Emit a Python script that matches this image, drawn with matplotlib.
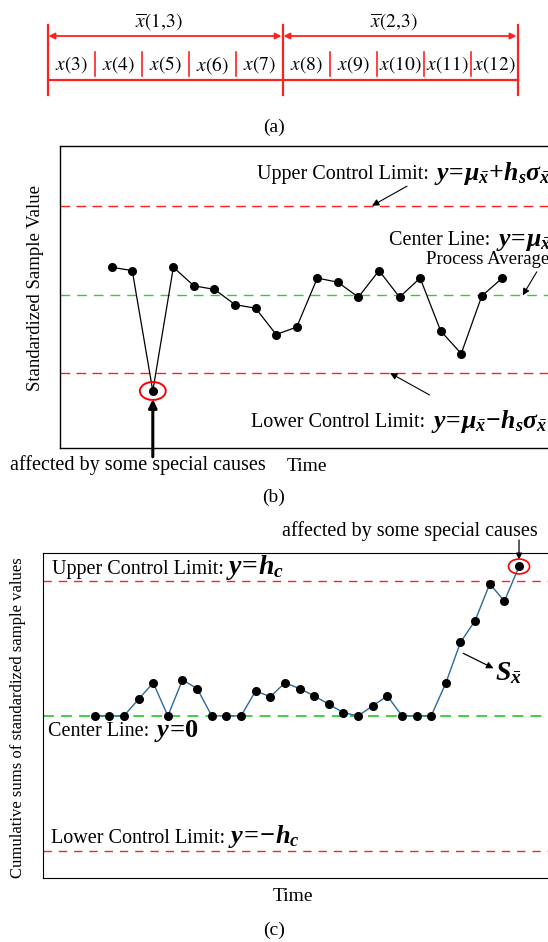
import numpy as np
import matplotlib
matplotlib.use("Agg")
from matplotlib import pyplot as plt
from matplotlib.patches import Ellipse

plt.rcParams["font.family"] = ["Liberation Serif", "DejaVu Serif"]
plt.rcParams["mathtext.fontset"] = "custom"
plt.rcParams["mathtext.rm"] = "Liberation Serif:bold"
plt.rcParams["mathtext.it"] = "Liberation Serif:italic:bold"
plt.rcParams["mathtext.bf"] = "Liberation Serif:bold"

# (a) sample layout
cell_labels = ["x(3)", "x(4)", "x(5)", "x(6)", "x(7)",
               "x(8)", "x(9)", "x(10)", "x(11)", "x(12)"]
group_labels = [r"\overline{x}(1{,}3)", r"\overline{x}(2{,}3)"]
cells_per_group = 5

# (b) standardized sample values
b_t = np.arange(1, 21)
b_vals = [0.94, 0.83, -3.2, 0.94, 0.32, 0.20, -0.31, -0.43, -1.31, -1.06,
          0.58, 0.44, -0.06, 0.83, -0.06, 0.58, -1.19, -1.95, -0.02, 0.58]
b_ucl, b_cl, b_lcl = 3.0, 0.0, -2.6
b_out = 3  # out-of-control sample

# (c) cumulative sums
c_t = np.arange(1, 31)
c_vals = [0, 0, 0, 0.62, 1.22, 0, 1.33, 1.01, 0, 0,
          0, 0.92, 0.71, 1.22, 1.01, 0.74, 0.43, 0.12, 0, 0.37,
          0.74, 0, 0, 0, 1.22, 2.72, 3.52, 4.88, 4.24, 5.52]
c_ucl, c_cl, c_lcl = 5.0, 0.0, -5.0
c_out = 30

RED = "#ff2020"
GREEN = "#33cc33"
BLUE = "#2b6a9a"

fig = plt.figure(figsize=(5.48, 9.42), dpi=100)

# overlay in pixel units for the sketch in (a) and the captions
ov = fig.add_axes([0, 0, 1, 1])
ov.set_xlim(0, 548)
ov.set_ylim(942, 0)
ov.axis("off")

x0, cw = 47.5, 47.0
n = len(cell_labels)
edges = x0 + cw * np.arange(n + 1)
for g in range(len(group_labels) + 1):
    xe = edges[g * cells_per_group]
    ov.plot([xe, xe], [25, 95], color=RED, lw=1.6)
for g, lab in enumerate(group_labels):
    xa, xb = edges[g * cells_per_group], edges[(g + 1) * cells_per_group]
    ov.annotate("", xy=(xa + 1, 36), xytext=(xb - 1, 36),
                arrowprops=dict(arrowstyle="<|-|>", color=RED, lw=1.3,
                                mutation_scale=9, shrinkA=0, shrinkB=0))
    ov.text((xa + xb) / 2 - 6, 22, "$" + lab + "$", ha="center", va="center",
            fontsize=14, math_fontfamily="stix")
ov.plot([edges[0], edges[-1]], [80, 80], color=RED, lw=1.6)
for i in range(1, n):
    if i % cells_per_group:
        ov.plot([edges[i], edges[i]], [52, 76], color=RED, lw=1.2)
for i, lab in enumerate(cell_labels):
    ov.text((edges[i] + edges[i + 1]) / 2, 65, "$" + lab + "$", ha="center",
            va="center", fontsize=14, math_fontfamily="stix")

for cap, yc in [("(a)", 127), ("(b)", 497), ("(c)", 930)]:
    ov.text(274, yc, cap, ha="center", va="center", fontsize=14)

arrow_thin = dict(arrowstyle="-|>", color="black", lw=0.8,
                  mutation_scale=10, shrinkA=0, shrinkB=0)

# (b) Shewhart-type chart
ax = fig.add_axes([0.110, 0.5247, 0.890, 0.3203])
ax.set_xlim(-1.5, 22.22)
ax.set_ylim(-5.1, 5.0)
ax.set_xticks([])
ax.set_yticks([])
ax.spines["right"].set_visible(False)
for s in ["left", "top", "bottom"]:
    ax.spines[s].set_linewidth(1.0)
ax.axhline(b_ucl, color=RED, lw=1.0, ls=(0, (7, 4.5)))
ax.axhline(b_cl, color=GREEN, lw=1.0, ls=(0, (7, 5)))
ax.axhline(b_lcl, color=RED, lw=1.0, ls=(0, (7, 4.5)))
ax.plot(b_t, b_vals, color="black", lw=0.9, marker="o", ms=5.5,
        mfc="black", mec="black")
yo = b_vals[b_out - 1]
ax.add_patch(Ellipse((b_out, yo), width=1.26, height=0.6, fill=False,
                     ec="red", lw=1.4, zorder=4))

t = ax.text(0.403, 0.904, "Upper Control Limit: ", transform=ax.transAxes,
            ha="left", va="center", fontsize=14.5)
ax.annotate(r"$y\!=\!\mu_{\bar{x}}\!+\!h_s\sigma_{\bar{x}}$", xy=(1, 0),
            xycoords=t, xytext=(0, 3.2), textcoords="offset points",
            ha="left", va="baseline", fontsize=18.5)
ax.annotate("", xy=(13.66, b_ucl), xytext=(0.711, 0.867),
            textcoords="axes fraction", arrowprops=arrow_thin)

t = ax.text(0.675, 0.686, "Center Line: ", transform=ax.transAxes,
            ha="left", va="center", fontsize=14.5)
ax.annotate(r"$y\!=\!\mu_{\bar{x}}$", xy=(1, 0), xycoords=t,
            xytext=(0, 3.2), textcoords="offset points",
            ha="left", va="baseline", fontsize=18.5)
ax.text(0.750, 0.624, "Process Average", transform=ax.transAxes,
        ha="left", va="center", fontsize=13.5)
ax.annotate("", xy=(20.99, b_cl), xytext=(0.977, 0.583),
            textcoords="axes fraction", arrowprops=arrow_thin)

t = ax.text(0.392, 0.083, "Lower Control Limit: ", transform=ax.transAxes,
            ha="left", va="center", fontsize=14.5)
ax.annotate(r"$y\!=\!\mu_{\bar{x}}\!-\!h_s\sigma_{\bar{x}}$", xy=(1, 0),
            xycoords=t, xytext=(0, 3.2), textcoords="offset points",
            ha="left", va="baseline", fontsize=18.5)
ax.annotate("", xy=(14.54, b_lcl), xytext=(0.757, 0.175),
            textcoords="axes fraction", arrowprops=arrow_thin)

ax.annotate("", xy=(b_out, yo), xytext=(b_out, -0.03),
            textcoords=("data", "axes fraction"), annotation_clip=False,
            arrowprops=dict(arrowstyle="-|>", color="black", lw=2.2,
                            mutation_scale=12, shrinkA=0, shrinkB=6))
ax.text(-0.103, -0.057, "affected by some special causes",
        transform=ax.transAxes, ha="left", va="center", fontsize=14.5)
ax.text(0.506, -0.063, "Time", transform=ax.transAxes, ha="center",
        va="center", fontsize=14)
ax.text(-0.05, 0.53, "Standardized Sample Value", transform=ax.transAxes,
        rotation=90, ha="center", va="center", fontsize=13.5)

# (c) CUSUM chart
cx = fig.add_axes([0.079, 0.0676, 0.921, 0.3457])
cx.set_xlim(-2.513, 31.98)
cx.set_ylim(-6.0, 6.03)
cx.set_xticks([])
cx.set_yticks([])
cx.spines["right"].set_visible(False)
cx.axhline(c_ucl, color=RED, lw=1.0, ls=(0, (6, 5)))
cx.axhline(c_cl, color=GREEN, lw=1.3, ls=(0, (6, 4)))
cx.axhline(c_lcl, color=RED, lw=1.0, ls=(0, (6, 5)))
cx.plot(c_t, c_vals, color=BLUE, lw=1.0, marker="o", ms=5.5,
        mfc="black", mec="black")
yc = c_vals[c_out - 1]
cx.add_patch(Ellipse((c_out, yc), width=1.44, height=0.55, fill=False,
                     ec="red", lw=1.2, zorder=4))

t = cx.text(0.0166, 0.949, "Upper Control Limit:", transform=cx.transAxes,
            ha="left", va="center", fontsize=14.5)
cx.annotate(r"$y\!=\!h_c$", xy=(1, 0), xycoords=t, xytext=(2, 3.2),
            textcoords="offset points", ha="left", va="baseline",
            fontsize=20)
t = cx.text(0.0087, 0.450, "Center Line: ", transform=cx.transAxes,
            ha="left", va="center", fontsize=14.5)
cx.annotate(r"$y\!=\!0$", xy=(1, 0), xycoords=t, xytext=(0, 3.2),
            textcoords="offset points", ha="left", va="baseline",
            fontsize=19)
t = cx.text(0.0153, 0.123, "Lower Control Limit:", transform=cx.transAxes,
            ha="left", va="center", fontsize=14.5)
cx.annotate(r"$y\!=\!\!-\!h_c$", xy=(1, 0), xycoords=t, xytext=(2, 3.2),
            textcoords="offset points", ha="left", va="baseline",
            fontsize=19)

cx.text(0.472, 1.0676, "affected by some special causes",
        transform=cx.transAxes, ha="left", va="center", fontsize=14.5)
cx.annotate("", xy=(c_out, yc), xytext=(c_out, 1.039),
            textcoords=("data", "axes fraction"), annotation_clip=False,
            arrowprops=dict(arrowstyle="-|>", color="black", lw=0.9,
                            mutation_scale=9, shrinkA=0, shrinkB=5))
cx.text(0.895, 0.629, r"$S_{\bar{x}}$", transform=cx.transAxes,
        ha="left", va="center", fontsize=20)
cx.annotate("", xy=(0.892, 0.645), xytext=(0.832, 0.691),
            xycoords="axes fraction", textcoords="axes fraction",
            arrowprops=dict(arrowstyle="-|>", color="black", lw=0.9,
                            mutation_scale=10, shrinkA=0, shrinkB=0))
cx.text(0.495, -0.0565, "Time", transform=cx.transAxes, ha="center",
        va="center", fontsize=14)
cx.text(-0.0495, 0.492, "Cumulative sums of standardized sample values",
        transform=cx.transAxes, rotation=90, ha="center", va="center",
        fontsize=12)

fig.savefig("out.png", dpi=100)
